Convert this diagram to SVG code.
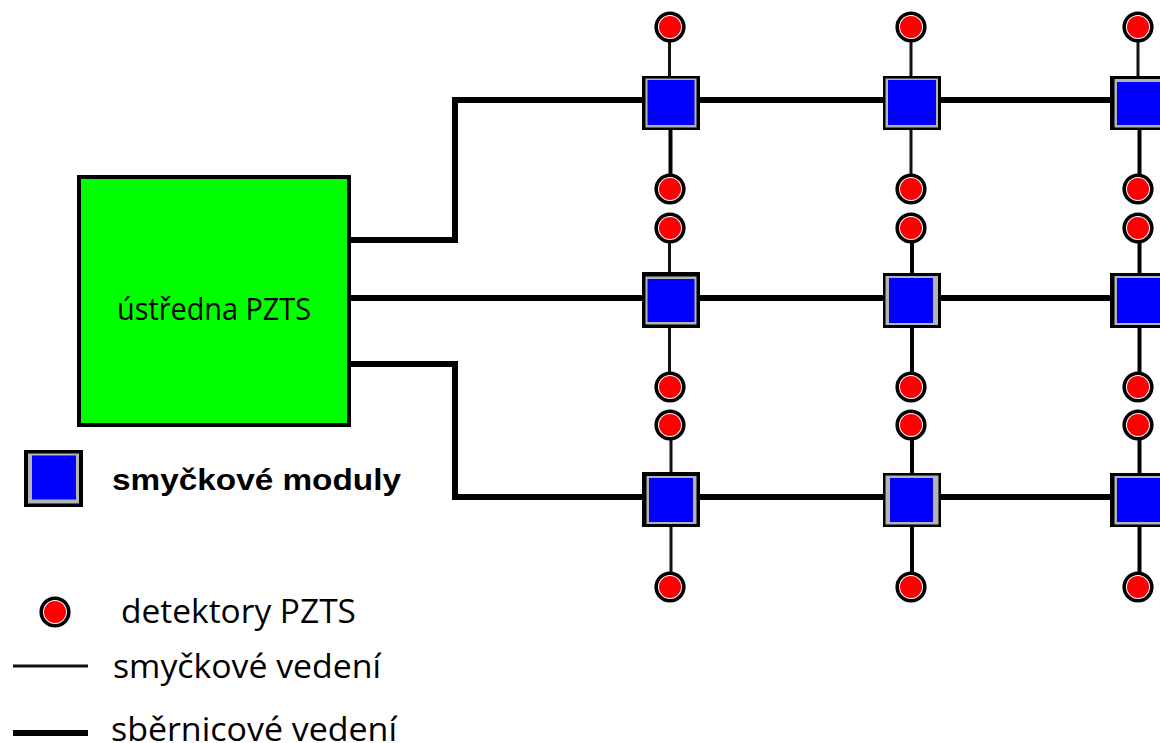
<svg xmlns="http://www.w3.org/2000/svg" width="1160" height="743" viewBox="0 0 1160 743">
<style>
.thin{fill:none;stroke:#111;stroke-width:3}
.thick{fill:none;stroke:#000;stroke-width:4}
.bus{fill:none;stroke:#000;stroke-width:6;stroke-linejoin:miter}
.mo{fill:#000}
.mg{fill:#b4b4b4}
.mb{fill:#0000ff}
.do{fill:#fff;stroke:#000;stroke-width:3.6}
.dr{fill:#ff0000}
.t{font-family:"Open Sans","Noto Sans",sans-serif;fill:#000}
</style>
<defs>
<g id="det"><circle class="do" r="13.800"/><circle class="dr" r="11"/></g>
</defs>
<rect width="1160" height="743" fill="#fff"/>
<g id="connectors">
<path class="bus" d="M350 240H455V100H642"/>
<path class="bus" d="M350 298H642"/>
<path class="bus" d="M350 364H455V497H642"/>
<path class="bus" d="M700 100H883M941 100H1110"/>
<path class="bus" d="M700 298H883M941 298H1110"/>
<path class="bus" d="M700 497H883M941 497H1110"/>
<path class="thin" d="M669.500 40V76M669.500 240V273M669.500 327V373M671 438V473M671 527V573"/>
<path class="thick" d="M670.500 129V176"/>
<path class="thin" d="M911 40V76M911 129V176"/>
<path class="thick" d="M912 240V273M912 327V373M912 438V473M912 527V573"/>
<path class="thin" d="M1138 40V76"/>
<path class="thick" d="M1139.500 129V176M1139.500 240V273M1139.500 327V373M1139.500 438V473M1139.500 527V573"/>
<path class="thin" d="M13 666H88"/>
<path class="bus" d="M13 733H88"/>
</g>
<g id="ustredna"><rect x="79" y="177" width="270" height="248" fill="#00ff00" stroke="#000" stroke-width="4"/><text class="t" x="117" y="320" font-size="31" textLength="194" lengthAdjust="spacingAndGlyphs">ústředna PZTS</text></g>
<g id="m11"><rect class="mo" x="642" y="76" width="58" height="54"/><rect class="mg" x="645.500" y="78.500" width="51" height="49"/><rect class="mb" x="647.500" y="80" width="47" height="45"/></g>
<g id="m12"><rect class="mo" x="883" y="76" width="58" height="54"/><rect class="mg" x="885.500" y="78.500" width="52.500" height="49"/><rect class="mb" x="888" y="80" width="48" height="45"/></g>
<g id="m13"><rect class="mo" x="1110" y="76" width="60" height="54"/><rect class="mg" x="1114.500" y="79" width="55" height="48.500"/><rect class="mb" x="1117" y="82" width="50" height="43"/></g>
<g id="m21"><rect class="mo" x="642" y="272" width="58" height="56"/><rect class="mg" x="645.500" y="276.500" width="51" height="48"/><rect class="mb" x="647.500" y="279" width="47" height="43"/></g>
<g id="m22"><rect class="mo" x="883" y="273" width="58" height="55"/><rect class="mg" x="885.500" y="276" width="52.500" height="49"/><rect class="mb" x="889" y="278" width="44" height="45"/></g>
<g id="m23"><rect class="mo" x="1110" y="273" width="60" height="55"/><rect class="mg" x="1114.500" y="276" width="55" height="49"/><rect class="mb" x="1117" y="278" width="50" height="45"/></g>
<g id="m31"><rect class="mo" x="642" y="472" width="58" height="55"/><rect class="mg" x="646.500" y="476" width="50" height="48"/><rect class="mb" x="649" y="478" width="44" height="44"/></g>
<g id="m32"><rect class="mo" x="883" y="473" width="58" height="54"/><rect class="mg" x="885.500" y="475.500" width="53" height="49"/><rect class="mb" x="890" y="478" width="43" height="44"/></g>
<g id="m33"><rect class="mo" x="1110" y="473" width="60" height="54"/><rect class="mg" x="1114.500" y="476" width="55" height="48.500"/><rect class="mb" x="1117" y="478" width="50" height="44"/></g>
<g id="d1"><use href="#det" x="670" y="27"/></g><g id="d2"><use href="#det" x="911" y="27"/></g><g id="d3"><use href="#det" x="1138" y="27"/></g>
<g id="d4"><use href="#det" x="670" y="189"/></g><g id="d5"><use href="#det" x="911" y="189"/></g><g id="d6"><use href="#det" x="1138" y="189"/></g>
<g id="d7"><use href="#det" x="670" y="228"/></g><g id="d8"><use href="#det" x="911" y="228"/></g><g id="d9"><use href="#det" x="1138" y="228"/></g>
<g id="d10"><use href="#det" x="670" y="387"/></g><g id="d11"><use href="#det" x="911" y="387"/></g><g id="d12"><use href="#det" x="1138" y="387"/></g>
<g id="d13"><use href="#det" x="670" y="425"/></g><g id="d14"><use href="#det" x="911" y="425"/></g><g id="d15"><use href="#det" x="1138" y="425"/></g>
<g id="d16"><use href="#det" x="670" y="587"/></g><g id="d17"><use href="#det" x="911" y="587"/></g><g id="d18"><use href="#det" x="1138" y="587"/></g>
<g id="legend-module"><rect class="mo" x="24" y="450" width="59" height="57"/><rect class="mg" x="28" y="453.500" width="51" height="50"/><rect class="mb" x="32" y="455.500" width="44" height="44"/>
<text x="112" y="490" font-family="'Liberation Sans',Arial,sans-serif" font-weight="bold" font-size="29" textLength="289" lengthAdjust="spacingAndGlyphs">smyčkové moduly</text></g>
<g id="legend-detector"><use href="#det" x="55" y="612"/>
<text class="t" x="121" y="623" font-size="33" textLength="235" lengthAdjust="spacingAndGlyphs">detektory PZTS</text></g>
<g id="legend-lines">
<text class="t" x="113" y="678" font-size="33" textLength="268" lengthAdjust="spacingAndGlyphs">smyčkové vedení</text>
<text class="t" x="111" y="741" font-size="33" textLength="286" lengthAdjust="spacingAndGlyphs">sběrnicové vedení</text>
</g>
</svg>
